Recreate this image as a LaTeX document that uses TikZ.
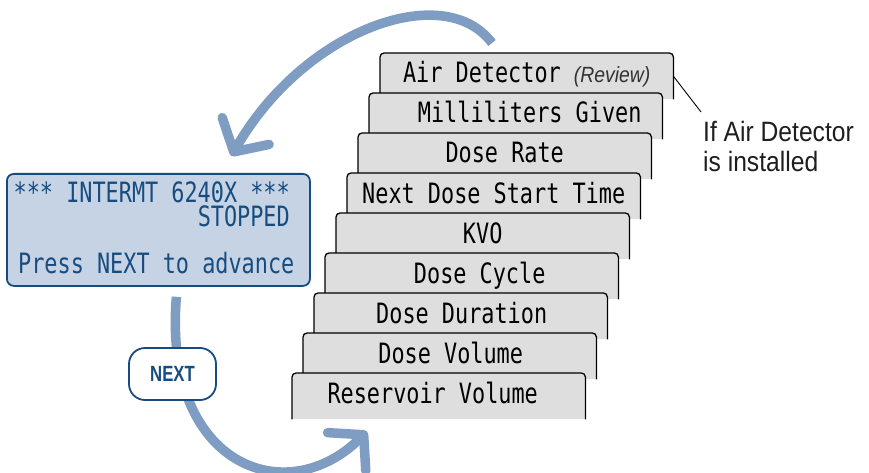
\documentclass[tikz,border=0pt]{standalone}
\usepackage{fontspec}
\usetikzlibrary{positioning,arrows.meta,calc,backgrounds}
\newfontfamily\lcdfont[FakeStretch=0.78]{DejaVu Sans Mono}
\newfontfamily\labelfont[FakeStretch=0.88]{Liberation Sans}
\newfontfamily\btnfont[FakeStretch=0.76]{Liberation Sans}
\definecolor{lcdblue}{RGB}{22,76,128}
\definecolor{lcdfill}{RGB}{198,211,228}
\definecolor{arrowblue}{RGB}{127,157,194}
\definecolor{cardgray}{RGB}{222,222,222}
\definecolor{revgray}{RGB}{50,50,50}
\definecolor{labelgray}{RGB}{30,30,30}

\begin{document}
\begin{tikzpicture}[x=1pt,y=-1pt,
    card/.style={fill=cardgray,rounded corners=4pt,minimum width=293pt,minimum height=46pt,inner sep=0pt,anchor=north west},
    cardtext/.style={font=\lcdfont\fontsize{28}{30}\selectfont,inner sep=0pt,anchor=base},
    lcdtext/.style={font=\lcdfont\fontsize{28}{24}\selectfont,text=lcdblue,inner sep=0pt},
    flow/.style={draw=arrowblue,line width=9.5pt,-{Straight Barb[length=24pt,width=54pt,round]}}]
  \useasboundingbox (0,0) rectangle (869,473);
  \node[draw=lcdblue,line width=1.8pt,fill=lcdfill,rounded corners=7pt,minimum width=303pt,minimum height=112pt,anchor=north west] (lcd) at (6,173) {};
  \node[lcdtext,align=right,anchor=north east] (status) at (290,181.6) {*** INTERMT 6240X ***\\STOPPED};
  \node[lcdtext,anchor=base west] (prompt) at (18,273) {Press NEXT to advance};
  \foreach \txt/\dx [count=\i] in {{Air Detector {\labelfont\itshape\fontsize{22}{24}\selectfont\color{revgray}(Review)}}/0,
      Milliliters Given/14, Dose Rate/0, Next Dose Start Time/0, KVO/0,
      Dose Cycle/8, Dose Duration/1, Dose Volume/1, Reservoir Volume/-6} {
    \node[card] (c\i) at ({380-11*(\i-1)},{53+40*(\i-1)}) {};
    \fill[cardgray] (c\i.south west) rectangle (c\i.east);
    \draw[line width=1.3pt,rounded corners=4pt] (c\i.south west) |- (c\i.north east) -- (c\i.south east);
    \node[cardtext] (t\i) at ($(c\i.north)+(\dx,30)$) {\txt};
  }
  \node[font=\labelfont\fontsize{28}{30}\selectfont,text=labelgray,align=left,inner sep=0pt,anchor=north west] (lbl) at (703,121) {If Air Detector\\is installed};
  \draw[line width=0.9pt] (c1.east) -- ($(lbl.north west)+(-2,-9)$);
  \node[draw=lcdblue,line width=1.8pt,fill=white,rounded corners=16pt,minimum width=87pt,minimum height=52pt,inner sep=0pt,
      font=\btnfont\bfseries\fontsize{22}{24}\selectfont,text=lcdblue] (next) at (172.5,374) {NEXT};
  \begin{scope}[on background layer]
    \coordinate (topstart) at ($(c1.north west)+(112,-10)$);
    \coordinate (toptip) at ($(lcd.north)+(73,-17)$);
    \draw[flow] (topstart) .. controls +(-48,-64) and +(72,-126) .. (toptip);
    \coordinate (botstart) at ($(lcd.south)+(18,10)$);
    \coordinate (bottip) at ($(c9.south west)+(75,12)$);
    \draw[flow] (botstart) .. controls +(-14,170) and +(-80,80) .. (bottip);
  \end{scope}
\end{tikzpicture}
\end{document}
